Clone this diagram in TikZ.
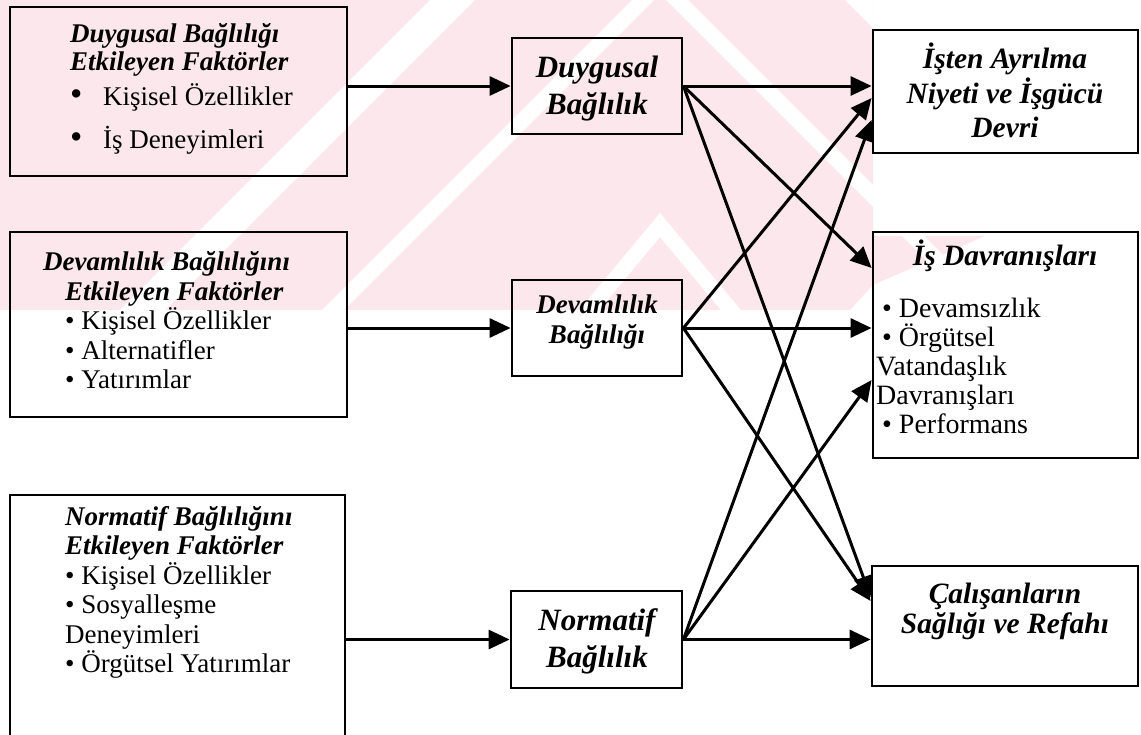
\documentclass[tikz,border=0pt]{standalone}
\usepackage{fontspec}
\setmainfont{Liberation Serif}
\usetikzlibrary{arrows.meta}
\definecolor{wmpink}{RGB}{252,231,236}
\begin{document}
\begin{tikzpicture}[x=1pt,y=-1pt,
  box/.style={draw, line width=2.8pt, inner sep=0pt},
  link/.style={line width=3pt, -{Triangle[length=21pt,width=19pt]}},
  txt/.style={inner sep=0pt}]
\useasboundingbox (0,0) rectangle (1141,734);

% faint striped background emblem
\begin{scope}
  \clip (0,0) -- (873,0) -- (873,236) -- (985,236) -- (873,285) -- (850,310) -- (0,310) -- cycle;
  \fill[wmpink] (0,0) rectangle (1141,310);
  \fill[white] (0,632) -- (660,-28) -- (1141,453) -- (1141,475) -- (660,-6) -- (0,654) -- cycle;
  \fill[white] (0,1005) -- (660,213) -- (1141,790) -- (1141,814) -- (660,237) -- (0,1029) -- cycle;
  \fill[white] (0,430) -- (660,-230) -- (1141,251) -- (1141,296) -- (660,-185) -- (0,475) -- cycle;
\end{scope}

% left column: factor boxes
\node[box, minimum width=337pt, minimum height=169pt] (L1) at (178.5,91.5) {};
\node[box, minimum width=337pt, minimum height=185pt] (L2) at (178.5,324.5) {};
\node[box, minimum width=335pt, minimum height=250pt] (L3) at (177.5,620) {};

% middle column: commitment types
\node[box, minimum width=170pt, minimum height=96pt] (M1) at (597,86) {};
\node[box, minimum width=170pt, minimum height=96pt] (M2) at (597,328) {};
\node[box, minimum width=171pt, minimum height=97pt] (M3) at (596.5,639.5) {};

% right column: outcomes
\node[box, minimum width=265pt, minimum height=123pt] (R1) at (1005.5,91.5) {};
\node[box, minimum width=265pt, minimum height=226pt] (R2) at (1005.5,345) {};
\node[box, minimum width=266pt, minimum height=120pt] (R3) at (1005,626) {};

% texts of the left boxes
\node[txt, anchor=north west, align=left, font=\fontsize{27}{28}\selectfont] (L1t) at (70,23.5)
  {\textbf{\textit{Duygusal Bağlılığı}}\\
   \textbf{\textit{Etkileyen Faktörler}}\\[7pt]
   \makebox[33pt][l]{\scalebox{1.3}{•}}Kişisel Özellikler\\[14pt]
   \makebox[33pt][l]{\scalebox{1.3}{•}}İş Deneyimleri};
\node[txt, anchor=north west, align=left, font=\fontsize{27}{29.5}\selectfont] (L2t) at (65,251.5)
  {\hspace*{-22pt}\textbf{\textit{Devamlılık Bağlılığını}}\\
   \textbf{\textit{Etkileyen Faktörler}}\\
   • Kişisel Özellikler\\
   • Alternatifler\\
   • Yatırımlar};
\node[txt, anchor=north west, align=left, font=\fontsize{27}{29.5}\selectfont] (L3t) at (65,506)
  {\textbf{\textit{Normatif Bağlılığını}}\\
   \textbf{\textit{Etkileyen Faktörler}}\\
   • Kişisel Özellikler\\
   • Sosyalleşme\\
   Deneyimleri\\
   • Örgütsel Yatırımlar};

% texts of the middle boxes
\node[txt, anchor=north, align=center, font=\bfseries\itshape\fontsize{31}{37}\selectfont] (M1t) at (597,56) {Duygusal\\Bağlılık};
\node[txt, anchor=north, align=center, font=\bfseries\itshape\fontsize{27}{30}\selectfont] (M2t) at (597,294.6) {Devamlılık\\Bağlılığı};
\node[txt, anchor=north, align=center, font=\bfseries\itshape\fontsize{31}{37}\selectfont] (M3t) at (597,608) {Normatif\\Bağlılık};

% texts of the right boxes
\node[txt, anchor=north, align=center, font=\bfseries\itshape\fontsize{29.5}{34.5}\selectfont] (R1t) at (1005,43) {İşten Ayrılma\\Niyeti ve İşgücü\\Devri};
\node[txt, anchor=north, align=center, font=\bfseries\itshape\fontsize{29.5}{34.5}\selectfont] (R2t) at (1005,240) {İş Davranışları};
\node[txt, anchor=north west, align=left, font=\fontsize{28}{29}\selectfont] (R2l) at (876,298)
  {\hspace*{6pt}• Devamsızlık\\
   \hspace*{6pt}• Örgütsel\\
   Vatandaşlık\\
   Davranışları\\
   \hspace*{6pt}• Performans};
\node[txt, anchor=north, align=center, font=\bfseries\itshape\fontsize{29.5}{29.5}\selectfont] (R3t) at (1005,583) {Çalışanların\\Sağlığı ve Refahı};

% factors -> commitment
\draw[link] (L1.east |- M1.west) -- (M1.west);
\draw[link] (L2.east |- M2.west) -- (M2.west);
\draw[link] (L3.east |- M3.west) -- (M3.west);

% commitment -> outcomes
\draw[link] (M1.east) -- (R1.west |- M1.east);
\draw[link] (M1.east) -- ([yshift=77pt]R2.west);
\draw[link] (M1.east) -- ([yshift=29pt]R3.west);
\draw[link] (M2.east) -- ([yshift=-6.5pt]R1.west);
\draw[link] (M2.east) -- (R2.west |- M2.east);
\draw[link] (M2.east) -- ([yshift=25pt]R3.west);
\draw[link] (M3.east) -- ([yshift=-28.5pt]R1.west);
\draw[link] (M3.east) -- ([yshift=-35pt]R2.west);
\draw[link] (M3.east) -- (R3.west |- M3.east);
\end{tikzpicture}
\end{document}
